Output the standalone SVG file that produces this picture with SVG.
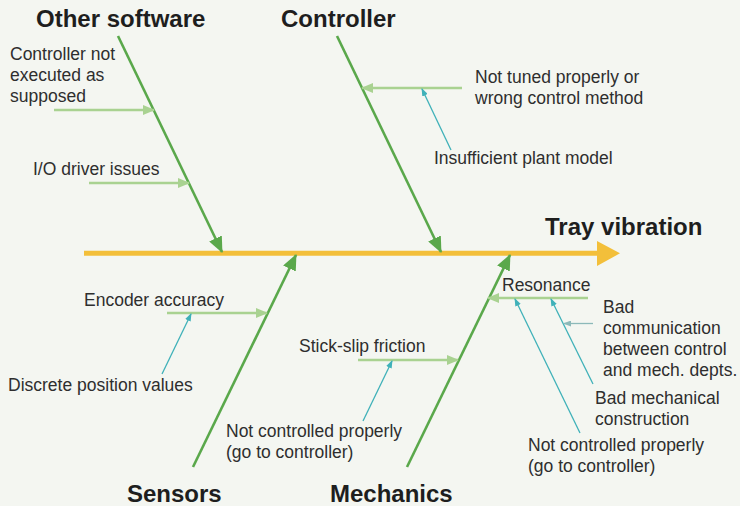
<svg xmlns="http://www.w3.org/2000/svg" width="740" height="506" viewBox="0 0 740 506">
<style>
.t{font-family:"Liberation Sans",Arial,sans-serif;font-size:17.5px;fill:#2e2e2e}
.h{font-family:"Liberation Sans",Arial,sans-serif;font-size:24px;font-weight:bold;fill:#1e1e1e}
.bone{stroke:#5aa84b;stroke-width:2.6;fill:none;marker-end:url(#mb)}
.br{stroke:#a9d291;stroke-width:2.4;fill:none;marker-end:url(#mr)}
.tl{stroke:#3fb1b9;stroke-width:1.3;fill:none;marker-end:url(#mt)}
.tg{stroke:#8cb9b9;stroke-width:1.3;fill:none;marker-end:url(#mg)}
</style>
<defs>
<marker id="mb" markerUnits="userSpaceOnUse" markerWidth="16" markerHeight="14" refX="15" refY="7" orient="auto"><path d="M0,0 L16,7 L0,14 Z" fill="#5aa84b"/></marker>
<marker id="mr" markerUnits="userSpaceOnUse" markerWidth="12" markerHeight="10" refX="11" refY="5" orient="auto"><path d="M0,0 L12,5 L0,10 Z" fill="#a9d291"/></marker>
<marker id="mt" markerUnits="userSpaceOnUse" markerWidth="8" markerHeight="6" refX="7" refY="3" orient="auto"><path d="M0,0 L8,3 L0,6 Z" fill="#3fb1b9"/></marker>
<marker id="mg" markerUnits="userSpaceOnUse" markerWidth="8" markerHeight="6" refX="7" refY="3" orient="auto"><path d="M0,0 L8,3 L0,6 Z" fill="#8cb9b9"/></marker>
</defs>
<rect width="740" height="506" fill="#f4f6f1"/>
<g id="spine">
<line x1="84" y1="253.3" x2="600" y2="253.3" stroke="#f3bf3a" stroke-width="5"/>
<path d="M597,241 L620,253.3 L597,266 Z" fill="#f3bf3a"/>
</g>
<g id="connectors">
<line class="bone" x1="118" y1="36" x2="222" y2="252"/>
<line class="bone" x1="337" y1="36" x2="441" y2="252"/>
<line class="bone" x1="193" y1="467" x2="296" y2="255"/>
<line class="bone" x1="407" y1="467" x2="510" y2="255"/>
<line class="br" x1="54" y1="110" x2="154" y2="110"/>
<line class="br" x1="89" y1="183" x2="189" y2="183"/>
<line class="br" x1="462" y1="88" x2="362" y2="88"/>
<line class="br" x1="167" y1="313" x2="267" y2="313"/>
<line class="br" x1="358" y1="360" x2="458" y2="360"/>
<line class="br" x1="588" y1="298" x2="488" y2="298"/>
<line class="tl" x1="451" y1="150" x2="422" y2="89"/>
<line class="tl" x1="162" y1="374" x2="191" y2="314"/>
<line class="tl" x1="363" y1="421" x2="392" y2="361"/>
<line class="tl" x1="580" y1="433" x2="515" y2="299"/>
<line class="tl" x1="593" y1="384" x2="551" y2="299"/>
<line class="tg" x1="593" y1="323.5" x2="564" y2="323.5"/>
</g>
<g id="effect"><text class="h" x="545" y="235">Tray vibration</text></g>
<g id="other-software">
<text class="h" x="36" y="27">Other software</text>
<text class="t" x="10" y="60">Controller not</text>
<text class="t" x="10" y="81">executed as</text>
<text class="t" x="10" y="102">supposed</text>
<text class="t" x="33" y="175">I/O driver issues</text>
</g>
<g id="controller">
<text class="h" x="281" y="27">Controller</text>
<text class="t" x="475" y="83">Not tuned properly or</text>
<text class="t" x="475" y="104">wrong control method</text>
<text class="t" x="434" y="164">Insufficient plant model</text>
</g>
<g id="sensors">
<text class="h" x="127" y="502">Sensors</text>
<text class="t" x="84" y="306">Encoder accuracy</text>
<text class="t" x="8" y="391">Discrete position values</text>
</g>
<g id="mechanics">
<text class="h" x="330" y="502">Mechanics</text>
<text class="t" x="299" y="352">Stick-slip friction</text>
<text class="t" x="226" y="437">Not controlled properly</text>
<text class="t" x="226" y="458">(go to controller)</text>
<text class="t" x="502" y="291">Resonance</text>
<text class="t" x="603" y="313">Bad</text>
<text class="t" x="603" y="334">communication</text>
<text class="t" x="603" y="355">between control</text>
<text class="t" x="603" y="376">and mech. depts.</text>
<text class="t" x="595" y="404">Bad mechanical</text>
<text class="t" x="595" y="425">construction</text>
<text class="t" x="528" y="451">Not controlled properly</text>
<text class="t" x="528" y="472">(go to controller)</text>
</g>
</svg>
